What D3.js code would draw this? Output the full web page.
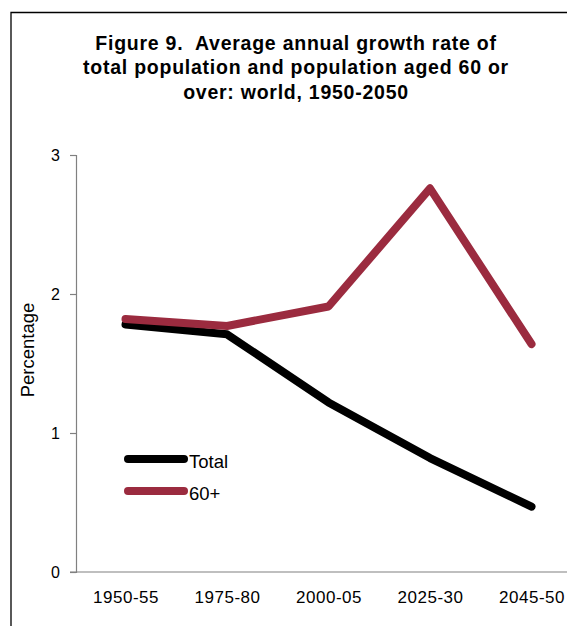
<!DOCTYPE html>
<html>
<head>
<meta charset="utf-8">
<script src="https://cdn.jsdelivr.net/npm/d3@7"></script>
<style>
  html, body { margin: 0; padding: 0; background: #fff; }
  svg { display: block; }
  text { font-family: "Liberation Sans", Arial, sans-serif; fill: #000; white-space: pre; }
</style>
</head>
<body>
<svg id="chart" width="567" height="626"></svg>
<script>
const categories = ["1950-55", "1975-80", "2000-05", "2025-30", "2045-50"];
const totalValues = [1.78, 1.71, 1.22, 0.82, 0.47];
const olderValues = [1.82, 1.77, 1.91, 2.76, 1.64];
const yTicks = [0, 1, 2, 3];
const seriesNames = ["Total", "60+"];
const titleLines = [
  "Figure 9.  Average annual growth rate of",
  "total population and population aged 60 or",
  "over: world, 1950-2050"
];
const yLabel = "Percentage";

const series = [
  { name: seriesNames[0], values: totalValues, color: "#000000" },
  { name: seriesNames[1], values: olderValues, color: "#9b2b3f" }
];

const svg = d3.select("#chart");
const W = 567, H = 626;

// frame
svg.append("path")
  .attr("d", `M11,${H + 2} L11,12.5 L${W + 2},12.5`)
  .attr("fill", "none").attr("stroke", "#000").attr("stroke-width", 1.3);

// title
const title = svg.append("text")
  .attr("text-anchor", "middle")
  .attr("font-size", 19.5).attr("font-weight", "bold")
  .attr("xml:space", "preserve")
  .style("letter-spacing", "0.75px");
titleLines.forEach((t, i) => {
  title.append("tspan").attr("x", 296).attr("y", 49.5 + i * 24.5).text(t);
});

const x = d3.scalePoint().domain(categories).range([125.5, 531.5]);
const y = d3.scaleLinear().domain([0, 3]).range([572, 155]);

// y axis
const yAxis = svg.append("g").attr("transform", "translate(76,0)")
  .call(d3.axisLeft(y).tickValues(yTicks).tickFormat(d3.format("d")).tickSize(6).tickPadding(10));
yAxis.select(".domain").attr("stroke", "#808080").attr("stroke-width", 1.2);
yAxis.selectAll(".tick line").attr("stroke", "#808080").attr("stroke-width", 1.2);
yAxis.selectAll(".tick text").attr("font-size", 16)
  .attr("font-family", "Liberation Sans, Arial, sans-serif").attr("fill", "#000");

// x axis
const xAxis = svg.append("g").attr("transform", "translate(0,572)")
  .call(d3.axisBottom(x).tickSize(0).tickPadding(19));
xAxis.select(".domain").remove();
xAxis.append("line").attr("x1", 70).attr("x2", W + 2).attr("y1", 0).attr("y2", 0)
  .attr("stroke", "#808080").attr("stroke-width", 1.2);
xAxis.selectAll(".tick text").attr("font-size", 17)
  .attr("font-family", "Liberation Sans, Arial, sans-serif").attr("fill", "#000")
  .style("letter-spacing", "0.5px");

// y label
svg.append("text")
  .attr("transform", "translate(33.5,350) rotate(-90)")
  .attr("text-anchor", "middle")
  .attr("font-size", 18.5)
  .text(yLabel);

// lines
const line = d3.line()
  .x((d, i) => x(categories[i]))
  .y(d => y(d));

svg.selectAll(".series").data(series).enter().append("path")
  .attr("class", "series")
  .attr("d", d => line(d.values))
  .attr("fill", "none")
  .attr("stroke", d => d.color)
  .attr("stroke-width", 8)
  .attr("stroke-linecap", "round")
  .attr("stroke-linejoin", "round");

// legend
const leg = svg.append("g");
series.forEach((s, i) => {
  const ly = 459 + i * 32;
  leg.append("line").attr("x1", 128).attr("x2", 184).attr("y1", ly).attr("y2", ly)
    .attr("stroke", s.color).attr("stroke-width", 8).attr("stroke-linecap", "round");
  leg.append("text").attr("x", 189).attr("y", ly + 9).attr("font-size", 18.5).text(s.name);
});
</script>
</body>
</html>
